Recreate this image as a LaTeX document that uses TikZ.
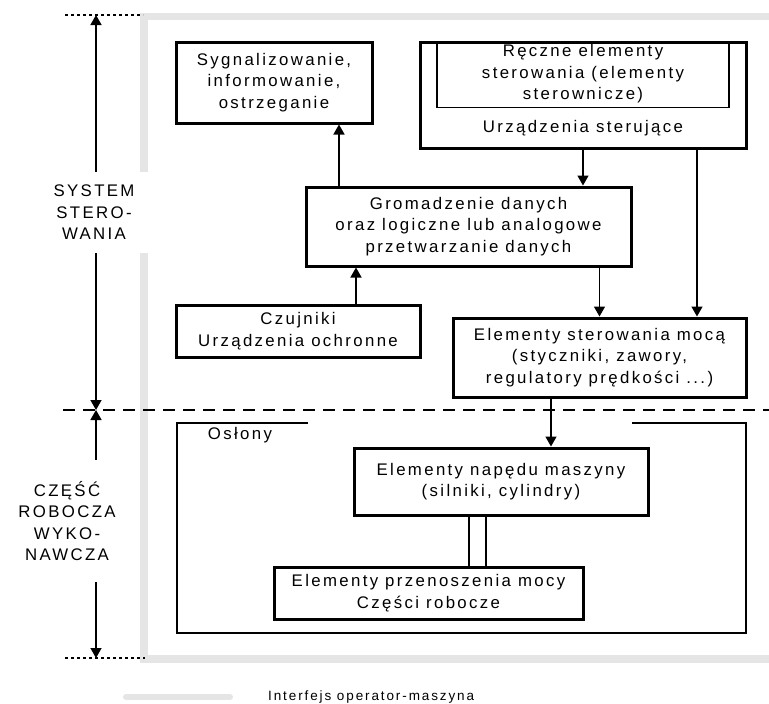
\documentclass[tikz,border=0pt]{standalone}
\usepackage{fontspec}
\newfontfamily\diafont{Liberation Sans}[LetterSpace=14]
\usetikzlibrary{arrows.meta,positioning,calc}

\begin{document}
\begin{tikzpicture}[x=1pt, y=-1pt,
  font=\diafont\fontsize{16.8}{21.5}\selectfont,
  box/.style={draw, line width=3pt, align=center, inner sep=0pt},
  thinbox/.style={draw, line width=1.3pt, align=center, inner sep=0pt},
  lbl/.style={align=center, inner sep=0pt},
  arr/.style={-{Triangle[length=10pt, width=11pt]}, line width=1.5pt},
  iface/.style={line width=7.5pt, draw=black!10},
  dots/.style={dash pattern=on 3pt off 3pt, line width=1.2pt}]
  \useasboundingbox (0,0) rectangle (769,704);

  % Control system
  \node[box, minimum width=196, minimum height=81] (sygnal) at (274,82.5)
    {Sygnalizowanie,\\informowanie,\\ostrzeganie};
  \node[box, minimum width=326, minimum height=106] (ster) at (583,95) {};
  \node[thinbox, minimum width=292, minimum height=66, anchor=north] (reczne) at (ster.north)
    {Ręczne elementy\\sterowania (elementy\\sterownicze)};
  \node[lbl] (sterlbl) at (583,128) {Urządzenia sterujące};
  \node[box, minimum width=325, minimum height=79] (gromadz) at (468.5,226.5)
    {Gromadzenie danych\\oraz logiczne lub analogowe\\przetwarzanie danych};
  \node[box, minimum width=244, minimum height=52] (czujniki) at (298,331)
    {Czujniki\\Urządzenia ochronne};
  \node[box, minimum width=293, minimum height=79] (moc) at (599.5,357.5)
    {Elementy sterowania mocą\\(styczniki, zawory,\\regulatory prędkości ...)};

  % Machine part
  \node[box, minimum width=294, minimum height=67] (naped) at (501,481.5)
    {Elementy napędu maszyny\\(silniki, cylindry)};
  \node[box, minimum width=309, minimum height=52] (przen) at (428.5,593)
    {Elementy przenoszenia mocy\\Części robocze};
  \node[lbl] (oslony) at (240,435) {Osłony};
  \draw[line width=1.3pt] (308,423) -- (177,423) -- (177,633) -- (746,633) -- (746,423) -- (632,423);

  % Side labels
  \node[lbl, minimum height=81] (sysster) at (94,212.5) {SYSTEM\\STERO-\\WANIA};
  \node[lbl, minimum height=122] (czesc) at (67,521) {CZĘŚĆ\\ROBOCZA\\WYKO-\\NAWCZA};

  % Operator-machine interface
  \coordinate (gtop) at (144,16.5);
  \draw[iface] (769,16.5) -- (gtop) -- (gtop |- sysster.north);
  \draw[iface] (gtop |- sysster.south) -- (144,659) -- (769,659);

  % Extent arrows
  \coordinate (top) at (96,15);
  \coordinate (mid) at (96,410);
  \coordinate (bot) at (96,658);
  \draw[dots] (65,15) -- (143,15);
  \draw[dots] (65,658) -- (145,658);
  \draw[dash pattern=on 12pt off 8pt, line width=1.3pt] (63,410) -- (769,410);
  \draw[arr] (top |- sysster.north) -- (top);
  \draw[arr] (top |- sysster.south) -- (mid);
  \draw[arr] (mid |- czesc.north) -- (mid);
  \draw[arr] (mid |- czesc.south) -- (bot);

  % Signal flow
  \coordinate (a1) at ([xshift=65pt]sygnal.south);
  \coordinate (a2) at ([xshift=58pt]czujniki.north);
  \coordinate (a3) at ([xshift=114pt]ster.south);
  \coordinate (a4) at ([xshift=-48.5pt]moc.south);
  \draw[arr] (gromadz.north -| a1) -- (a1);
  \draw[arr] (a2) -- (gromadz.south -| a2);
  \draw[arr] (ster.south) -- (gromadz.north -| ster.south);
  \draw[arr] (gromadz.south -| moc.north) -- (moc.north);
  \draw[arr] (a3) -- (moc.north -| a3);
  \draw[arr] (a4) -- (naped.north -| a4);

  % Shaft
  \coordinate (s1) at ([xshift=-32pt]naped.south);
  \coordinate (s2) at ([xshift=-15pt]naped.south);
  \draw[line width=1.3pt] (s1) -- (przen.north -| s1);
  \draw[line width=1.3pt] (s2) -- (przen.north -| s2);

  % Legend
  \node[lbl, anchor=west, font=\diafont\fontsize{13.5}{16}\selectfont] (legtxt) at (268,697)
    {Interfejs operator-maszyna};
  \draw[iface, line width=6pt, line cap=round] ([xshift=-38pt]legtxt.west) -- ++(-104,0);
\end{tikzpicture}
\end{document}
